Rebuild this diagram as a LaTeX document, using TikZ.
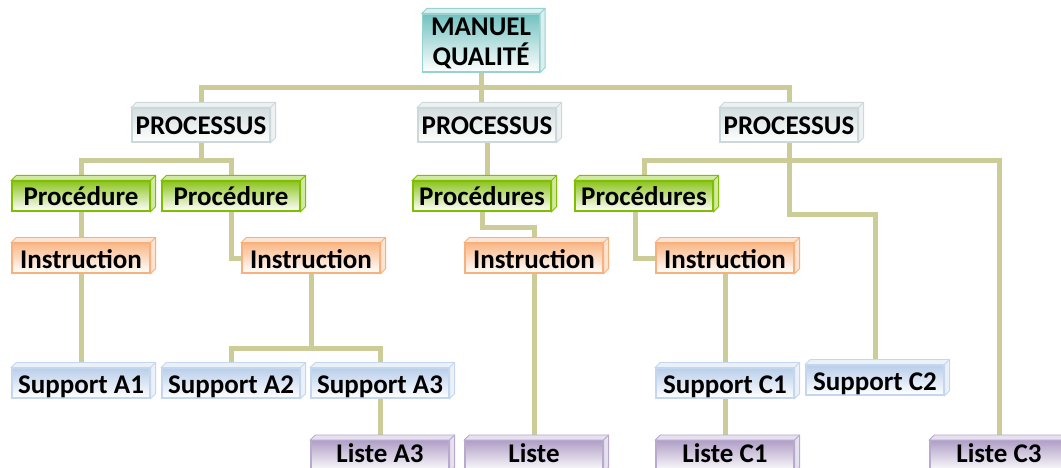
\documentclass[tikz,border=0pt]{standalone}
\usepackage{fontspec}
\setmainfont{Carlito}
\usetikzlibrary{backgrounds}
\definecolor{linkcol}{HTML}{CCCC99}
\definecolor{tealtop}{HTML}{72C2C0}
\definecolor{tealline}{HTML}{96D2D0}
\definecolor{greytop}{HTML}{D3DDDF}
\definecolor{greyline}{HTML}{CDD8DA}
\definecolor{greentop}{HTML}{8DC420}
\definecolor{greenline}{HTML}{7FBF00}
\definecolor{orangetop}{HTML}{F9B786}
\definecolor{orangeline}{HTML}{F8B07C}
\definecolor{bluetop}{HTML}{B9CEEA}
\definecolor{blueline}{HTML}{C4D7EF}
\definecolor{purpletop}{HTML}{B09FC6}
\definecolor{purpleline}{HTML}{B9A9CF}

\begin{document}
\begin{tikzpicture}[x=1pt, y=-1pt,
  slab/.style={rectangle, inner sep=0pt, minimum width=138pt, minimum height=30pt, line width=1.2pt, font=\fontsize{27}{30}\selectfont\bfseries},
  oneline/.style={text height=21pt, text depth=1pt},
  manuel/.style={slab, draw=tealline, top color=tealtop, bottom color=white, minimum width=117pt, minimum height=58pt, align=center},
  processus/.style={slab, oneline, draw=greyline, top color=greytop, bottom color=white, minimum height=34pt},
  procedure/.style={slab, oneline, draw=greenline, top color=greentop, bottom color=white},
  instruction/.style={slab, oneline, draw=orangeline, top color=orangetop, bottom color=white},
  support/.style={slab, oneline, draw=blueline, top color=bluetop, bottom color=white},
  liste/.style={slab, draw=purpleline, top color=purpletop, bottom color=white, minimum height=31pt, text height=13pt, text depth=1pt},
  link/.style={draw=linkcol, line width=5pt}]
\useasboundingbox (0,0) rectangle (1061,468);
\clip (0,0) rectangle (1061,468);

% Boxes
\node[manuel] (mq) at (481,43) {MANUEL\\QUALITÉ};

\node[processus] (pa) at (201,125) {PROCESSUS};
\node[processus] (pb) at (487,125) {PROCESSUS};
\node[processus] (pc) at (789,125) {PROCESSUS};

\node[procedure] (qa1) at (81,196) {Procédure};
\node[procedure] (qa2) at (231,196) {Procédure};
\node[procedure] (qb) at (482,196) {Procédures};
\node[procedure] (qc) at (644,196) {Procédures};

\node[instruction] (ia1) at (81,258) {Instruction};
\node[instruction] (ia2) at (311,258) {Instruction};
\node[instruction] (ib) at (534,258) {Instruction};
\node[instruction] (ic) at (725,258) {Instruction};

\node[support] (sa1) at (81,383) {Support A1};
\node[support] (sa2) at (231,383) {Support A2};
\node[support] (sa3) at (380,383) {Support A3};
\node[support] (sc1) at (725,383) {Support C1};
\node[support] (sc2) at (875,380) {Support C2};

\node[liste] (la3) at (380,456) {Liste A3};
\node[liste] (lb) at (534,456) {Liste};
\node[liste] (lc1) at (725,456) {Liste C1};
\node[liste] (lc3) at (999,456) {Liste C3};

% 3D top and side faces
\foreach \n/\c in {mq/tealline, pa/greyline, pb/greyline, pc/greyline,
    qa1/greenline, qa2/greenline, qb/greenline, qc/greenline,
    ia1/orangeline, ia2/orangeline, ib/orangeline, ic/orangeline,
    sa1/blueline, sa2/blueline, sa3/blueline, sc1/blueline, sc2/blueline,
    la3/purpleline, lb/purpleline, lc1/purpleline, lc3/purpleline} {
  \filldraw[fill=\c!35, draw=\c, line width=0.8pt] (\n.north west) -- ([shift={(5,-5)}]\n.north west)
    -- ([shift={(5,-5)}]\n.north east) -- ([shift={(5,-5)}]\n.south east)
    -- (\n.south east) -- (\n.north east) -- cycle;
  \draw[\c, line width=0.8pt] (\n.north east) -- ([shift={(5,-5)}]\n.north east);
}

% Links
\begin{pgfonlayer}{background}
\coordinate (top) at (mq.south |- 0,88);
\draw[link] (mq.south) -- (mq.south |- pb.north);
\draw[link] (pa.north) |- (top) -| (pc.north);

\coordinate (ja) at (pa.south |- 0,161);
\draw[link] (pa.south) -- (ja);
\draw[link] (qa1.north) |- (ja) -| (qa2.north);
\draw[link] (qa1) -- (ia1);
\draw[link] (ia1) -- (sa1);
\draw[link] (qa2.south) |- (ia2.west);
\coordinate (ja2) at (ia2.south |- 0,348);
\draw[link] (ia2.south) -- (ja2);
\draw[link] (sa2.north) |- (ja2) -| (sa3.north);
\draw[link] (sa3) -- (la3);

\draw[link] (pb.south) -- (pb.south |- qb.north);
\coordinate (jb) at (ib.north |- 0,227);
\draw[link] (qb.south) |- (jb) -- (ib.north);
\draw[link] (ib) -- (lb);

\coordinate (jc) at (pc.south |- 0,161);
\coordinate (jd) at (sc2.north |- 0,215);
\draw[link] (pc.south) -- (jc) |- (jd) -- (sc2.north);
\draw[link] (qc.north) |- (jc) -| (lc3.north);
\draw[link] ([xshift=-9pt]qc.south) |- (ic.west);
\draw[link] (ic) -- (sc1);
\draw[link] (sc1) -- (lc1);
\end{pgfonlayer}
\end{tikzpicture}
\end{document}
